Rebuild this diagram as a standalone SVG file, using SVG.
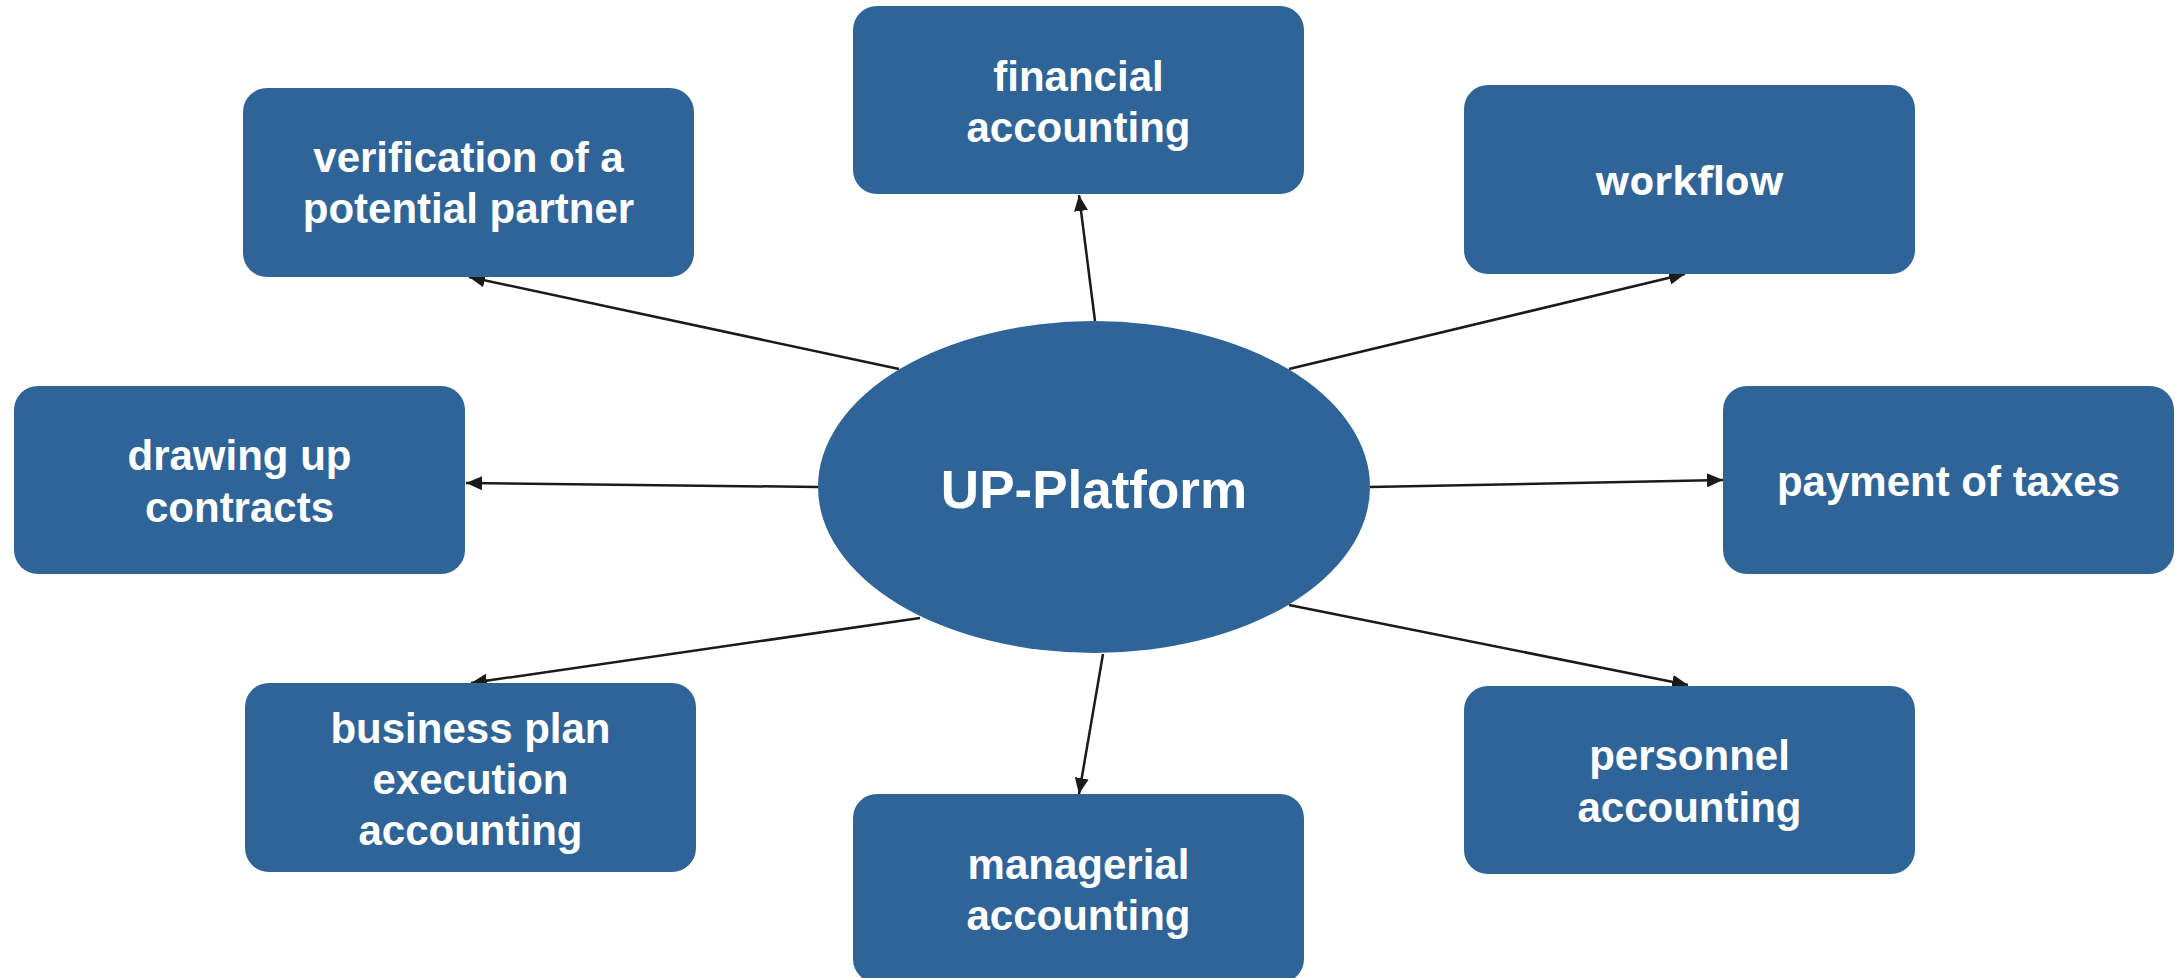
<svg xmlns="http://www.w3.org/2000/svg" width="2182" height="978" viewBox="0 0 2182 978">
  <defs>
    <style>
      .box { fill: #2E6498; }
      .lbl { font-family: "Liberation Sans", Arial, sans-serif; font-weight: bold; font-size: 42px; fill: #FFFFFF; text-anchor: middle; }
      .lbl2 { font-family: "Open Sans", "Liberation Sans", sans-serif; font-weight: bold; font-size: 40px; fill: #FFFFFF; text-anchor: middle; }
      .main { font-family: "Liberation Sans", Arial, sans-serif; font-weight: bold; font-size: 53px; fill: #FFFFFF; text-anchor: middle; }
      .conn { stroke: #1A1A1A; stroke-width: 2.5; fill: none; marker-end: url(#arrow); }
    </style>
    <marker id="arrow" markerUnits="userSpaceOnUse" markerWidth="16" markerHeight="14" refX="16" refY="7" orient="auto">
      <path d="M0,0 L16,7 L0,14 z" fill="#1A1A1A"/>
    </marker>
  </defs>
  <rect width="2182" height="978" fill="#FFFFFF"/>

  <g id="connectors">
    <line class="conn" x1="899" y1="369" x2="469" y2="277"/>
    <line class="conn" x1="1095" y1="321" x2="1079" y2="195"/>
    <line class="conn" x1="1289" y1="369" x2="1685" y2="274"/>
    <line class="conn" x1="819" y1="487" x2="466" y2="483"/>
    <line class="conn" x1="1370" y1="487" x2="1723" y2="480"/>
    <line class="conn" x1="920" y1="618" x2="471" y2="683"/>
    <line class="conn" x1="1103" y1="654" x2="1079" y2="794"/>
    <line class="conn" x1="1289" y1="605" x2="1688" y2="685"/>
  </g>

  <g id="up-platform">
    <ellipse class="box" cx="1094" cy="487" rx="276" ry="166"/>
    <text class="main" x="1094" y="508">UP-Platform</text>
  </g>

  <g id="verification">
    <rect class="box" x="243" y="88" width="451" height="189" rx="24"/>
    <text class="lbl" x="468.5" y="172">verification of a</text>
    <text class="lbl" x="468.5" y="223">potential partner</text>
  </g>

  <g id="financial">
    <rect class="box" x="853" y="6" width="451" height="188" rx="24"/>
    <text class="lbl" x="1078.5" y="91">financial</text>
    <text class="lbl" x="1078.5" y="142">accounting</text>
  </g>

  <g id="workflow">
    <rect class="box" x="1464" y="85" width="451" height="189" rx="24"/>
    <text class="lbl2" x="1689.5" y="195">workflow</text>
  </g>

  <g id="drawing">
    <rect class="box" x="14" y="386" width="451" height="188" rx="24"/>
    <text class="lbl" x="239.5" y="470">drawing up</text>
    <text class="lbl" x="239.5" y="522">contracts</text>
  </g>

  <g id="payment">
    <rect class="box" x="1723" y="386" width="451" height="188" rx="24"/>
    <text class="lbl" x="1948.5" y="496">payment of taxes</text>
  </g>

  <g id="business">
    <rect class="box" x="245" y="683" width="451" height="189" rx="24"/>
    <text class="lbl" x="470.5" y="743">business plan</text>
    <text class="lbl" x="470.5" y="794">execution</text>
    <text class="lbl" x="470.5" y="845">accounting</text>
  </g>

  <g id="managerial">
    <rect class="box" x="853" y="794" width="451" height="189" rx="24"/>
    <text class="lbl" x="1078.5" y="879">managerial</text>
    <text class="lbl" x="1078.5" y="930">accounting</text>
  </g>

  <g id="personnel">
    <rect class="box" x="1464" y="686" width="451" height="188" rx="24"/>
    <text class="lbl" x="1689.5" y="770">personnel</text>
    <text class="lbl" x="1689.5" y="822">accounting</text>
  </g>
</svg>
